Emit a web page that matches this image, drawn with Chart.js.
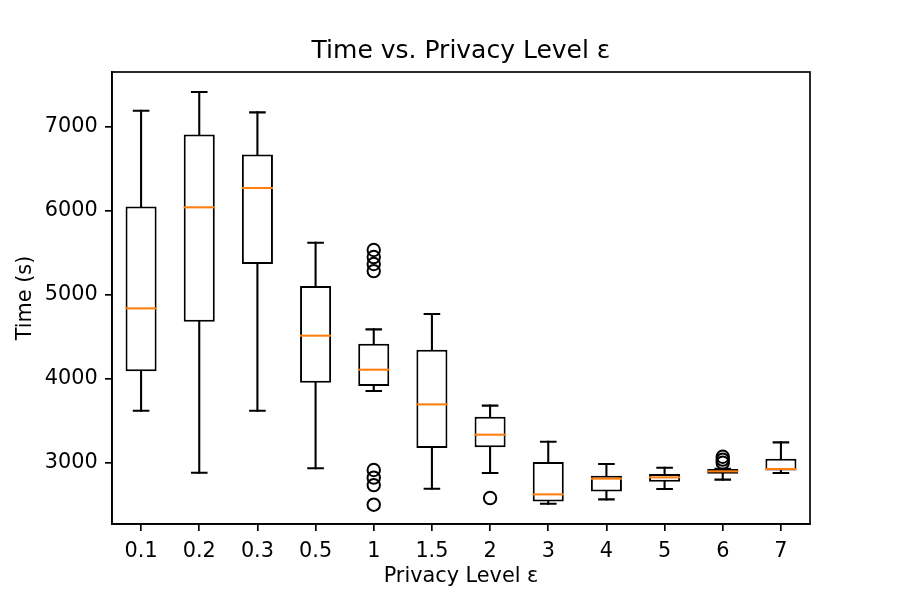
<!DOCTYPE html>
<html>
<head>
<meta charset="utf-8">
<script src="https://cdn.jsdelivr.net/npm/chart.js@4/dist/chart.umd.min.js"></script>
<style>
  html, body { margin: 0; padding: 0; background: #ffffff; }
  canvas { display: block; }
</style>
</head>
<body>
<canvas id="c" width="900" height="600"></canvas>
<script>
// ---- data ----
const categories = ['0.1', '0.2', '0.3', '0.5', '1', '1.5', '2', '3', '4', '5', '6', '7'];
const whiskerLow  = [3619, 2881, 3619, 2933, 3854, 2690, 2877, 2512, 2563, 2687, 2798, 2877];
const q1Values    = [4087, 4679, 5365, 3952, 3913, 3175, 3183, 2539, 2658, 2774, 2869, 2908];
const medians     = [4837, 6040, 6270, 4512, 4107, 3694, 3333, 2623, 2810, 2825, 2897, 2925];
const q3Values    = [6051, 6908, 6670, 5103, 4417, 4345, 3548, 3008, 2845, 2865, 2925, 3048];
const whiskerHigh = [7190, 7413, 7170, 5619, 4587, 4770, 3679, 3250, 2984, 2940, 2928, 3242];
const outlierCategories = ['1', '1', '1', '1', '1', '1', '1', '1', '2', '6', '6', '6'];
const outlierValues     = [5532, 5448, 5365, 5281, 2913, 2822, 2733, 2500, 2579, 3071, 3036, 3000];
const yTickValues = [3000, 4000, 5000, 6000, 7000];
const yMin = 2270, yMax = 7651;

const FONT = 'DejaVu Sans';

const boxPlugin = {
  id: 'boxParts',
  afterDatasetsDraw(chart) {
    const ctx = chart.ctx;
    const xs = chart.scales.x, ys = chart.scales.y;
    const unit = xs.getPixelForValue(1) - xs.getPixelForValue(0);
    const boxW = unit * 0.5;
    const capW = boxW * 0.5;
    ctx.save();
    ctx.lineWidth = 2.08;
    ctx.lineCap = 'square';
    for (let i = 0; i < categories.length; i++) {
      const x = xs.getPixelForValue(i);
      ctx.strokeStyle = '#000000';
      ctx.beginPath();
      ctx.moveTo(x, ys.getPixelForValue(q1Values[i]));
      ctx.lineTo(x, ys.getPixelForValue(whiskerLow[i]));
      ctx.moveTo(x, ys.getPixelForValue(q3Values[i]));
      ctx.lineTo(x, ys.getPixelForValue(whiskerHigh[i]));
      ctx.stroke();
      ctx.beginPath();
      ctx.moveTo(x - capW / 2, ys.getPixelForValue(whiskerLow[i]));
      ctx.lineTo(x + capW / 2, ys.getPixelForValue(whiskerLow[i]));
      ctx.moveTo(x - capW / 2, ys.getPixelForValue(whiskerHigh[i]));
      ctx.lineTo(x + capW / 2, ys.getPixelForValue(whiskerHigh[i]));
      ctx.stroke();
      ctx.strokeStyle = '#ff7f0e';
      ctx.beginPath();
      ctx.moveTo(x - boxW / 2, ys.getPixelForValue(medians[i]));
      ctx.lineTo(x + boxW / 2, ys.getPixelForValue(medians[i]));
      ctx.stroke();
    }
    ctx.restore();
  },
  afterDraw(chart) {
    const a = chart.chartArea;
    const ctx = chart.ctx;
    ctx.save();
    ctx.strokeStyle = '#000000';
    ctx.lineWidth = 1.67;
    ctx.strokeRect(a.left, a.top, a.right - a.left, a.bottom - a.top);
    ctx.restore();
  }
};

new Chart(document.getElementById('c'), {
  type: 'bar',
  data: {
    labels: categories,
    datasets: [
      {
        type: 'scatter',
        label: 'outliers',
        data: outlierCategories.map((c, i) => ({ x: c, y: outlierValues[i] })),
        pointStyle: 'circle',
        pointRadius: 6.2,
        pointBorderWidth: 2,
        borderColor: '#000000',
        backgroundColor: 'rgba(0,0,0,0)',
        showLine: false,
        order: 0
      },
      {
        label: 'boxes',
        data: categories.map((c, i) => [q1Values[i], q3Values[i]]),
        backgroundColor: '#ffffff',
        borderColor: '#000000',
        borderWidth: 2,
        borderSkipped: false,
        inflateAmount: 0,
        barPercentage: 0.534,
        categoryPercentage: 1.0,
        order: 1
      }
    ]
  },
  options: {
    responsive: false,
    animation: false,
    devicePixelRatio: 1,
    layout: { padding: { left: 0, right: 90, top: 0, bottom: 0 } },
    plugins: {
      legend: { display: false },
      tooltip: { enabled: false },
      title: {
        display: true,
        fullSize: false,
        text: 'Time vs. Privacy Level ε',
        color: '#000000',
        font: { family: FONT, size: 25, weight: 'normal' },
        padding: { top: 36, bottom: 6 }
      }
    },
    scales: {
      x: {
        type: 'category',
        offset: true,
        grid: { display: true, drawOnChartArea: false, drawTicks: true, tickLength: 7, color: '#000000', lineWidth: 1.67, offset: false },
        border: { display: true, color: '#000000', width: 1.67 },
        ticks: { color: '#000000', font: { family: FONT, size: 20.8 }, padding: 8.5, maxRotation: 0, autoSkip: false },
        title: { display: true, text: 'Privacy Level ε', color: '#000000', font: { family: FONT, size: 20.8 }, padding: { top: 0, bottom: 10.5 } },
        afterFit(s) { s.height = 76; }
      },
      y: {
        type: 'linear',
        min: yMin,
        max: yMax,
        grid: { display: true, drawOnChartArea: false, drawTicks: true, tickLength: 7, color: '#000000', lineWidth: 1.67 },
        border: { display: true, color: '#000000', width: 1.67 },
        ticks: { color: '#000000', font: { family: FONT, size: 20.8 }, padding: 7.3, callback: v => String(v) },
        afterBuildTicks(s) { s.ticks = yTickValues.map(v => ({ value: v })); },
        title: { display: true, text: 'Time (s)', color: '#000000', font: { family: FONT, size: 20.8 }, padding: { top: 13.5, bottom: 0 } },
        afterFit(s) { s.width = 112; }
      }
    }
  },
  plugins: [boxPlugin]
});
</script>
</body>
</html>
